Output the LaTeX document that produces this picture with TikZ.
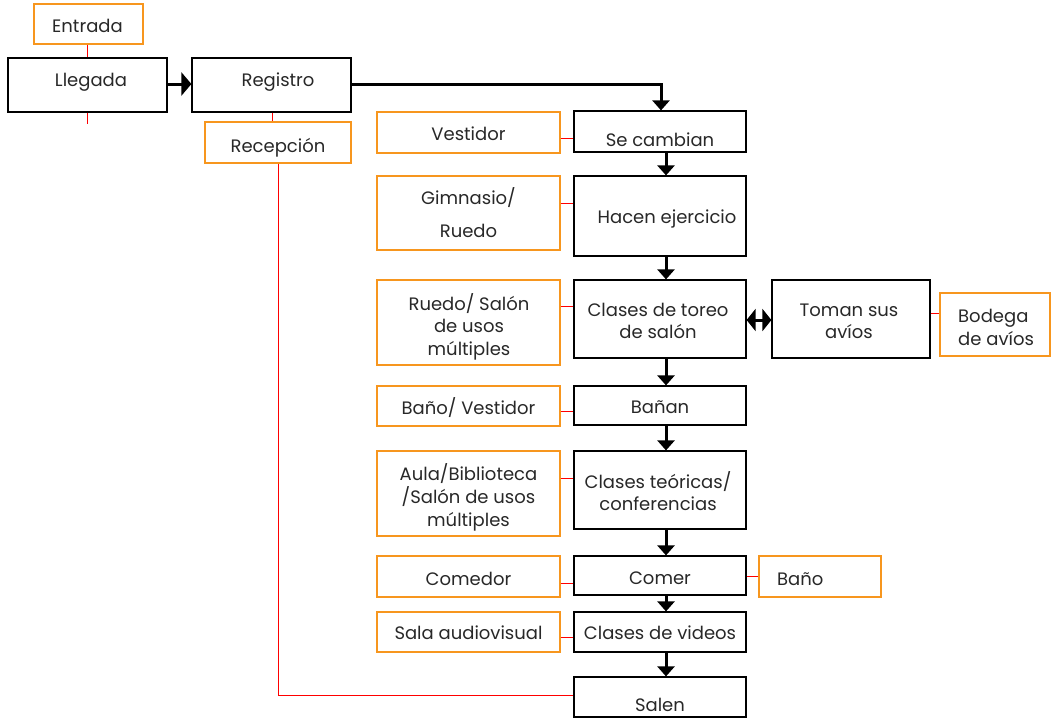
\documentclass[tikz,border=0pt]{standalone}
\usepackage{fontspec}
\setmainfont{Poppins}
\usetikzlibrary{arrows.meta,calc}
\definecolor{boxorange}{RGB}{247,150,30}
\definecolor{txt}{RGB}{40,40,40}
\tikzset{
  blackbox/.style={rectangle, inner sep=0pt, draw=black, line width=1.2pt},
  orangebox/.style={rectangle, inner sep=0pt, draw=boxorange, line width=1.4pt},
  lbl/.style={inner sep=0pt, anchor=base, text=txt, font=\fontsize{18}{22.5}\selectfont},
  lbll/.style={lbl, anchor=base west},
  redline/.style={draw=red, line width=0.9pt},
  flow/.style={draw=black, line width=3pt, -{Triangle[length=10pt,width=17pt]}},
  bigflow/.style={draw=black, line width=3pt, -{Triangle[length=10pt,width=23pt]}},
  twoway/.style={draw=black, line width=3pt, {Triangle[length=9pt,width=22pt]}-{Triangle[length=9pt,width=22pt]}},
}
\newcommand{\lines}[1]{\begin{tabular}[t]{@{}c@{}}#1\end{tabular}}
\newcommand{\llines}[1]{\begin{tabular}[t]{@{}l@{}}#1\end{tabular}}
\begin{document}
\begin{tikzpicture}[x=1pt,y=-1pt]
\useasboundingbox[fill=white] (0,0) rectangle (1052,718);
% top row
\node[orangebox, minimum width=109pt, minimum height=40pt] (entrada) at (88.5,24) {};
\node[lbl] (entrada-t) at (87.5,32) {Entrada};
\node[blackbox, minimum width=159pt, minimum height=54pt] (llegada) at (87.5,85) {};
\node[lbl] (llegada-t) at (91,86) {Llegada};
\node[blackbox, minimum width=159pt, minimum height=54pt] (registro) at (271.5,85) {};
\node[lbl] (registro-t) at (278,86) {Registro};
\node[orangebox, minimum width=146pt, minimum height=41pt] (recep) at (278,142.5) {};
\node[lbl] (recep-t) at (278,152) {Recepción};
% center column
\node[blackbox, minimum width=172pt, minimum height=41pt] (secamb) at (660,131.5) {};
\node[lbl] (secamb-t) at (660,146) {Se cambian};
\node[blackbox, minimum width=172pt, minimum height=80pt] (hacen) at (660,216) {};
\node[lbl] (hacen-t) at (667,223) {Hacen ejercicio};
\node[blackbox, minimum width=172pt, minimum height=78pt] (toreo) at (660,319) {};
\node[lbl] (toreo-t) at (658,316) {\lines{Clases de toreo\\de salón}};
\node[blackbox, minimum width=172pt, minimum height=39pt] (banan) at (660,405.5) {};
\node[lbl] (banan-t) at (660,413) {Bañan};
\node[blackbox, minimum width=172pt, minimum height=78pt] (teor) at (660,490) {};
\node[lbl] (teor-t) at (658,488) {\lines{Clases teóricas/\\conferencias}};
\node[blackbox, minimum width=172pt, minimum height=39pt] (comer) at (660,575.5) {};
\node[lbl] (comer-t) at (660,584) {Comer};
\node[blackbox, minimum width=172pt, minimum height=40pt] (videos) at (660,632) {};
\node[lbl] (videos-t) at (660,639) {Clases de videos};
\node[blackbox, minimum width=172pt, minimum height=40pt] (salen) at (660,697) {};
\node[lbl] (salen-t) at (660,711.5) {Salen};
% left column
\node[orangebox, minimum width=183pt, minimum height=41pt] (vest) at (468.5,132.5) {};
\node[lbl] (vest-t) at (468.5,140) {Vestidor};
\node[orangebox, minimum width=183pt, minimum height=74pt] (gimn) at (468.5,213) {};
\node[lbl] (gimn-t) at (468.5,204) {\lines{Gimnasio/\\[10.5pt]Ruedo}};
\node[orangebox, minimum width=183pt, minimum height=85pt] (ruedo) at (468.5,322.5) {};
\node[lbl] (ruedo-t) at (469,310) {\lines{Ruedo/ Salón\\de usos\\múltiples}};
\node[orangebox, minimum width=183pt, minimum height=40pt] (banov) at (468.5,406) {};
\node[lbl] (banov-t) at (468.5,414) {Baño/ Vestidor};
\node[orangebox, minimum width=183pt, minimum height=85pt] (aula) at (468.5,493.5) {};
\node[lbl] (aula-t) at (468.5,480) {\lines{Aula/Biblioteca\\/Salón de usos\\múltiples}};
\node[orangebox, minimum width=183pt, minimum height=41pt] (comedor) at (468.5,576.5) {};
\node[lbl] (comedor-t) at (468.5,585) {Comedor};
\node[orangebox, minimum width=183pt, minimum height=40pt] (sala) at (468.5,632) {};
\node[lbl] (sala-t) at (468.5,639) {Sala audiovisual};
% right side
\node[blackbox, minimum width=158pt, minimum height=78pt] (toman) at (851,319) {};
\node[lbl] (toman-t) at (849,316) {\lines{Toman sus\\avíos}};
\node[orangebox, minimum width=110pt, minimum height=63pt] (bodega) at (995,324.5) {};
\node[lbll] (bodega-t) at (958,322.5) {\llines{Bodega\\de avíos}};
\node[orangebox, minimum width=122pt, minimum height=41pt] (bano) at (820,576.5) {};
\node[lbll] (bano-t) at (777,585.5) {Baño};
\coordinate (tick) at (87,124);
% red connectors
\draw[redline] (entrada.south -| 87,0) -- (llegada.north -| 87,0);
\draw[redline] (llegada.south -| 87,0) -- (tick);
\draw[redline] (registro.south -| 272,0) -- (recep.north -| 272,0);
\draw[redline] (recep.south -| 278,0) -- (278,695) -- (salen.west |- 0,695);
\draw[redline] (vest.east |- 0,138) -- (secamb.west |- 0,138);
\draw[redline] (gimn.east |- 0,203) -- (hacen.west |- 0,203);
\draw[redline] (ruedo.east |- 0,306) -- (toreo.west |- 0,306);
\draw[redline] (toman.east |- 0,313) -- (bodega.west |- 0,313);
\draw[redline] (banov.east |- 0,411) -- (banan.west |- 0,411);
\draw[redline] (aula.east |- 0,478) -- (teor.west |- 0,478);
\draw[redline] (comedor.east |- 0,583) -- (comer.west |- 0,583);
\draw[redline] (comer.east |- 0,576) -- (bano.west |- 0,576);
\draw[redline] (sala.east |- 0,637) -- (videos.west |- 0,637);
% black flow
\draw[bigflow] (llegada.east |- 0,84) -- (registro.west |- 0,84);
\draw[flow] (registro.east |- 0,84) -- (661,84) -- (secamb.north -| 661,0);
\draw[flow] (secamb.south -| 666,0) -- (hacen.north -| 666,0);
\draw[flow] (hacen.south -| 666,0) -- (toreo.north -| 666,0);
\draw[flow] (toreo.south -| 666,0) -- (banan.north -| 666,0);
\draw[flow] (banan.south -| 666,0) -- (teor.north -| 666,0);
\draw[flow] (teor.south -| 666,0) -- (comer.north -| 666,0);
\draw[flow] (comer.south -| 666,0) -- (videos.north -| 666,0);
\draw[flow] (videos.south -| 666,0) -- (salen.north -| 666,0);
\draw[twoway] (toreo.east |- 0,320) -- (toman.west |- 0,320);
\end{tikzpicture}
\end{document}
